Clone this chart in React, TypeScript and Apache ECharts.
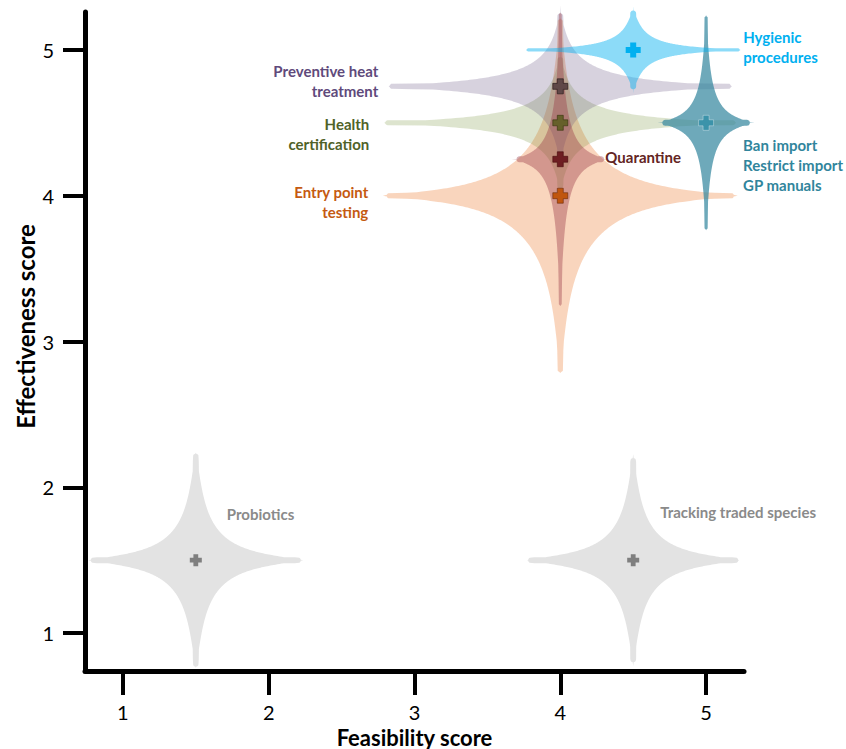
import React, { useEffect, useRef } from 'react';
import * as echarts from 'echarts';

// Measures, drawn in this order (bottom layer first)
const measures = [
  'Probiotics',
  'Tracking traded species',
  'Entry point\ntesting',
  'Health\ncertification',
  'Preventive heat\ntreatment',
  'Quarantine',
  'Ban import\nRestrict import\nGP manuals',
  'Hygienic\nprocedures',
];
const feasibility = [1.5, 4.5, 4.0, 4.0, 4.0, 4.0, 5.0, 4.5];
const effectiveness = [1.5, 1.5, 4.0, 4.5, 4.75, 4.25, 4.5, 5.0];
const feasibilitySpread = [0.72, 0.72, 1.19, 1.2, 1.17, 0.3, 0.3, 0.73];
const effectivenessSpread = [0.73, 0.7, 1.21, 0.45, 0.5, 1.0, 0.73, 0.27];
const axisTicks = [1, 2, 3, 4, 5];

// Styles
const starFill = [
  '#E3E3E3',
  '#E3E3E3',
  'rgba(237,125,49,0.32)',
  'rgba(119,147,60,0.25)',
  'rgba(96,74,123,0.25)',
  'rgba(150,50,65,0.38)',
  'rgba(49,133,156,0.7)',
  'rgba(0,176,240,0.45)',
];
const crossFill = ['#7F7F7F', '#7F7F7F', '#C0560F', '#66602A', '#5F4848', '#6E1E22', '#3C93AA', '#00B0F0'];
const crossStroke = [
  'rgba(0,0,0,0)',
  'rgba(0,0,0,0)',
  'rgba(90,30,0,0.5)',
  'rgba(40,40,0,0.5)',
  'rgba(30,20,20,0.6)',
  'rgba(60,0,0,0.5)',
  'rgba(255,255,255,0.35)',
  'rgba(0,0,0,0)',
];
const labelColor = ['#8A8A8A', '#8A8A8A', '#C55A11', '#4F6228', '#604A7B', '#632523', '#31859C', '#00B0F0'];
const labelLayout = [
  { dx: 31, dy: -46, align: 'left' },
  { dx: 27, dy: -48, align: 'left' },
  { dx: -192, dy: 6, align: 'right' },
  { dx: -191, dy: 11, align: 'right' },
  { dx: -182, dy: -5, align: 'right' },
  { dx: 45, dy: -2, align: 'left' },
  { dx: 37, dy: 42, align: 'left' },
  { dx: 110, dy: -3, align: 'left' },
];
const FONT = 'Lato, "Open Sans", sans-serif';

// half-width of an arm at distance t from the centre (pixels)
function armHalfWidth(t: number, L: number, P: number, T: number, rc: number) {
  if (t >= L) return 0;
  const X = t / L;
  const body = P * Math.pow(Math.max(0, 1 - Math.pow(X, 0.4)), 2.5);
  const taper = T * Math.pow(1 - X, 0.8);
  const cap = t <= L - rc ? rc : Math.sqrt(Math.max(0, rc * rc - (t - (L - rc)) * (t - (L - rc))));
  return Math.max(body + taper, cap);
}

type Arm = { L: number; P: number; T: number; rc: number };

function quadrantInside(x: number, y: number, ax: Arm, ay: Arm) {
  const hx = armHalfWidth(x, ax.L, ax.P, ax.T, ax.rc);
  const hy = armHalfWidth(y, ay.L, ay.P, ay.T, ay.rc);
  const n = 4;
  const tH = hx > 0 ? (y <= 0 ? Infinity : Math.pow(y / hx, -n)) : 0;
  const tV = hy > 0 ? (x <= 0 ? Infinity : Math.pow(x / hy, -n)) : 0;
  return tH + tV >= 1;
}

function starShape(r: number, l: number, u: number, d: number) {
  const N = 160;
  const halfH = (u + d) / 2; // perpendicular half-extent of horizontal arms
  const halfW = (r + l) / 2; // perpendicular half-extent of vertical arms
  const Tx = Math.min(12, 0.11 * halfH);
  const Ty = Math.min(12, 0.11 * halfW);
  const rcx = Math.min(2.8, Tx * 0.35);
  const rcy = Math.min(2.8, Ty * 0.35);
  const angles: number[] = [];
  for (let i = 0; i <= N; i++) {
    const uu = i / N;
    angles.push((Math.PI / 2) * (0.5 * uu + 0.5 * (uu - Math.sin(2 * Math.PI * uu) / (2 * Math.PI))));
  }
  const radius = (th: number, ax: Arm, ay: Arm) => {
    const c = Math.cos(th), s = Math.sin(th);
    let lo = 0, hi = Math.max(ax.L, ay.L) + 1;
    for (let k = 0; k < 34; k++) {
      const mid = (lo + hi) / 2;
      if (quadrantInside(mid * c, mid * s, ax, ay)) lo = mid;
      else hi = mid;
    }
    return lo;
  };
  const pts: number[][] = [];
  const quads = [
    { sx: 1, sy: -1, Lx: r, Ly: u, rev: false },
    { sx: -1, sy: -1, Lx: l, Ly: u, rev: true },
    { sx: -1, sy: 1, Lx: l, Ly: d, rev: false },
    { sx: 1, sy: 1, Lx: r, Ly: d, rev: true },
  ];
  quads.forEach((q) => {
    const ax: Arm = { L: q.Lx, P: q.sy < 0 ? u : d, T: Tx, rc: rcx };
    const ay: Arm = { L: q.Ly, P: q.sx > 0 ? r : l, T: Ty, rc: rcy };
    const list = q.rev ? [...angles].reverse() : angles;
    list.forEach((th) => {
      const rho = radius(th, ax, ay);
      pts.push([q.sx * rho * Math.cos(th), q.sy * rho * Math.sin(th)]);
    });
  });
  return pts;
}

function plusShape(h: number, t: number) {
  return [
    [-t, -h], [t, -h], [t, -t], [h, -t], [h, t], [t, t],
    [t, h], [-t, h], [-t, t], [-h, t], [-h, -t], [-t, -t],
  ];
}

export default function App() {
  const ref = useRef<HTMLDivElement>(null);
  useEffect(() => {
    if (!ref.current) return;
    const chart = echarts.init(ref.current, null, { renderer: 'svg' });
    const data = measures.map((m, i) => [feasibility[i], effectiveness[i], feasibilitySpread[i], effectivenessSpread[i]]);

    const renderStar = (params: any, api: any) => {
      const x = api.value(0), y = api.value(1), dx = api.value(2), dy = api.value(3);
      const c = api.coord([x, y]);
      const r = api.coord([x + dx, y])[0] - c[0];
      const l = c[0] - api.coord([x - dx, y])[0];
      const u = c[1] - api.coord([x, y + dy])[1];
      const d = api.coord([x, y - dy])[1] - c[1];
      const pts = starShape(r, l, u, d).map(([px, py]) => [c[0] + px, c[1] + py]);
      return {
        type: 'polygon',
        shape: { points: pts },
        style: { fill: starFill[params.dataIndex], stroke: 'none' },
        silent: true,
      };
    };

    const renderMarker = (params: any, api: any) => {
      const i = params.dataIndex;
      const c = api.coord([api.value(0), api.value(1)]);
      const gray = i < 2;
      const pts = plusShape(gray ? 6 : 7.5, gray ? 2.4 : 3).map(([px, py]) => [c[0] + px, c[1] + py]);
      const lay = labelLayout[i];
      return {
        type: 'group',
        children: [
          {
            type: 'polygon',
            shape: { points: pts },
            style: { fill: crossFill[i], stroke: crossStroke[i], lineWidth: 1 },
          },
          {
            type: 'text',
            x: c[0] + lay.dx,
            y: c[1] + lay.dy,
            style: {
              text: measures[i],
              fill: labelColor[i],
              fontFamily: FONT,
              fontWeight: 'bold',
              fontSize: 15,
              lineHeight: 20,
              align: lay.align,
              verticalAlign: 'middle',
            },
          },
        ],
      };
    };

    const axisCommon = {
      type: 'value',
      nameLocation: 'middle',
      nameMoveOverlap: false,
      axisLine: { show: true, onZero: false, lineStyle: { color: '#000', width: 5 } },
      splitLine: { show: false },
    };

    chart.setOption({
      animation: false,
      grid: { left: 85, right: 102, top: 12, bottom: 78, containLabel: false, outerBoundsMode: 'none' },
      xAxis: {
        ...axisCommon,
        min: 0.74,
        max: 5.26,
        name: 'Feasibility score',
        nameGap: 55,
        nameTextStyle: { fontFamily: FONT, fontWeight: 'bold', fontSize: 22, color: '#000' },
        axisTick: { show: true, customValues: axisTicks, length: 24, lineStyle: { color: '#000', width: 4 } },
        axisLabel: { customValues: axisTicks, fontSize: 20, lineHeight: 20, color: '#000', margin: 31, fontFamily: FONT },
      },
      yAxis: {
        ...axisCommon,
        min: 0.74,
        max: 5.26,
        name: 'Effectiveness score',
        nameGap: 48,
        nameTextStyle: { fontFamily: FONT, fontWeight: 'bold', fontSize: 24, color: '#000', padding: [0, 0, 0, 30] },
        axisTick: { show: true, customValues: axisTicks, length: 22, lineStyle: { color: '#000', width: 4 } },
        axisLabel: { customValues: axisTicks, fontSize: 20, color: '#000', margin: 31, fontFamily: FONT },
      },
      series: [
        { type: 'custom', name: 'ranges', renderItem: renderStar, data, encode: { x: 0, y: 1 }, z: 2, silent: true, clip: false },
        { type: 'custom', name: 'scores', renderItem: renderMarker, data, encode: { x: 0, y: 1 }, z: 3, silent: true, clip: false },
      ],
    });
    return () => chart.dispose();
  }, []);
  return <div ref={ref} style={{ position: 'absolute', left: 0, top: 0, width: 846, height: 749, background: '#fff' }} />;
}
